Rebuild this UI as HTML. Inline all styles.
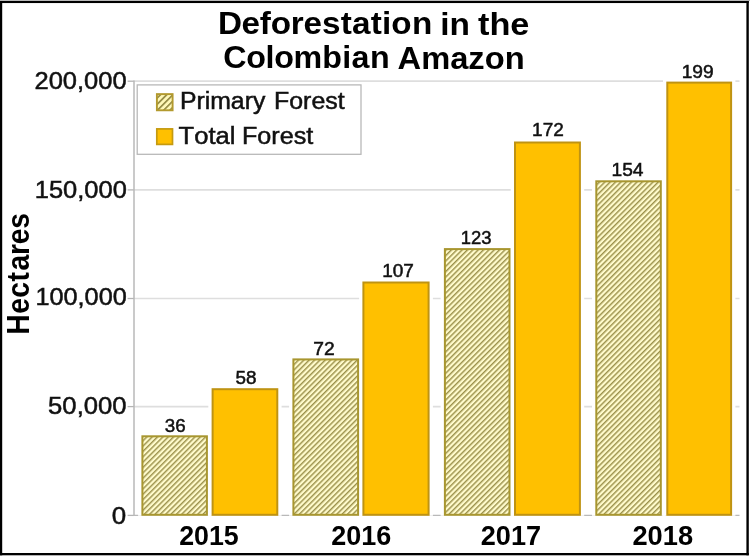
<!DOCTYPE html>
<html lang="en"><head><meta charset="utf-8"><title>Deforestation in the Colombian Amazon</title>
<style>html,body{margin:0;padding:0;background:#fff}body{width:750px;height:557px;overflow:hidden}svg{display:block}</style></head>
<body>
<svg width="750" height="557" viewBox="0 0 750 557" font-family="Liberation Sans, sans-serif" style="font-kerning:none">
<defs><pattern id="h" width="3.78" height="3.78" patternUnits="userSpaceOnUse" patternTransform="rotate(-45)"><rect width="3.78" height="3.78" fill="#fffbcc"/><rect y="0" width="3.78" height="1.45" fill="#9c924c"/></pattern><pattern id="h2" width="4.4" height="4.4" patternUnits="userSpaceOnUse" patternTransform="translate(158,96) rotate(-45)"><rect width="4.4" height="4.4" fill="#fff8b8"/><rect y="0" width="4.4" height="1.7" fill="#968c46"/></pattern></defs>
<rect width="750" height="557" fill="#fff"/>
<rect x="-0.3" y="0.9" width="749" height="2.15" fill="#000"/>
<rect x="-0.3" y="0.9" width="2.5" height="554.4" fill="#000"/>
<rect x="746.4" y="0.9" width="2.4" height="554.4" fill="#000"/>
<rect x="-0.3" y="553.0" width="749.1" height="2.3" fill="#000"/>
<rect x="0" y="0" width="750" height="0.9" fill="#b4b4b4"/>
<line x1="134.0" y1="81.2" x2="739.5" y2="81.2" stroke="#dedede" stroke-width="1.7"/>
<line x1="134.0" y1="189.9" x2="739.5" y2="189.9" stroke="#dedede" stroke-width="1.7"/>
<line x1="134.0" y1="298.5" x2="739.5" y2="298.5" stroke="#dedede" stroke-width="1.7"/>
<line x1="134.0" y1="406.6" x2="739.5" y2="406.6" stroke="#dedede" stroke-width="1.7"/>
<line x1="127.6" y1="81.2" x2="134.0" y2="81.2" stroke="#b4b4b4" stroke-width="1.3"/>
<line x1="127.6" y1="189.9" x2="134.0" y2="189.9" stroke="#b4b4b4" stroke-width="1.3"/>
<line x1="127.6" y1="298.5" x2="134.0" y2="298.5" stroke="#b4b4b4" stroke-width="1.3"/>
<line x1="127.6" y1="406.6" x2="134.0" y2="406.6" stroke="#b4b4b4" stroke-width="1.3"/>
<line x1="127.6" y1="515.4" x2="134.0" y2="515.4" stroke="#b4b4b4" stroke-width="1.3"/>
<line x1="134.0" y1="80.60000000000001" x2="134.0" y2="516.0" stroke="#b9b9b9" stroke-width="1.5"/>
<line x1="134.0" y1="515.4" x2="739.5" y2="515.4" stroke="#b9b9b9" stroke-width="1.3"/>
<rect x="138.10" y="432.00" width="73.10" height="83.80" fill="#fff"/>
<rect x="208.30" y="384.90" width="73.30" height="130.90" fill="#fff"/>
<rect x="289.10" y="355.10" width="73.30" height="160.70" fill="#fff"/>
<rect x="359.10" y="278.20" width="73.80" height="237.60" fill="#fff"/>
<rect x="440.60" y="244.80" width="73.20" height="271.00" fill="#fff"/>
<rect x="510.70" y="138.20" width="73.50" height="377.60" fill="#fff"/>
<rect x="592.00" y="177.00" width="73.10" height="338.80" fill="#fff"/>
<rect x="663.00" y="78.30" width="72.40" height="437.50" fill="#fff"/>
<rect x="142.40" y="436.30" width="64.50" height="78.50" fill="url(#h)" stroke="#a8962f" stroke-width="2.0"/>
<rect x="212.60" y="389.20" width="64.70" height="125.60" fill="#ffc000" stroke="#bf9312" stroke-width="2.0"/>
<rect x="293.40" y="359.40" width="64.70" height="155.40" fill="url(#h)" stroke="#a8962f" stroke-width="2.0"/>
<rect x="363.40" y="282.50" width="65.20" height="232.30" fill="#ffc000" stroke="#bf9312" stroke-width="2.0"/>
<rect x="444.90" y="249.10" width="64.60" height="265.70" fill="url(#h)" stroke="#a8962f" stroke-width="2.0"/>
<rect x="515.00" y="142.50" width="64.90" height="372.30" fill="#ffc000" stroke="#bf9312" stroke-width="2.0"/>
<rect x="596.30" y="181.30" width="64.50" height="333.50" fill="url(#h)" stroke="#a8962f" stroke-width="2.0"/>
<rect x="667.30" y="82.60" width="63.80" height="432.20" fill="#ffc000" stroke="#bf9312" stroke-width="2.0"/>
<rect x="137.2" y="84.9" width="223.8" height="69.4" fill="#fff" stroke="#b6b6b6" stroke-width="1.25"/>
<rect x="156.9" y="94.1" width="15.7" height="16.2" fill="url(#h2)" stroke="#b39a2e" stroke-width="1.9"/>
<rect x="156.8" y="128.9" width="15.7" height="15.5" fill="#ffc000" stroke="#c59a10" stroke-width="1.7"/>
<text x="179.92" y="109.40" font-size="23.5" font-weight="400" textLength="85.38" lengthAdjust="spacingAndGlyphs" fill="#111" stroke="#111" stroke-width="0.5">Primary</text>
<text x="274.01" y="109.40" font-size="23.5" font-weight="400" textLength="70.63" lengthAdjust="spacingAndGlyphs" fill="#111" stroke="#111" stroke-width="0.5">Forest</text>
<text x="178.58" y="143.80" font-size="23.5" font-weight="400" textLength="56.89" lengthAdjust="spacingAndGlyphs" fill="#111" stroke="#111" stroke-width="0.5">Total</text>
<text x="241.99" y="143.80" font-size="23.5" font-weight="400" textLength="71.25" lengthAdjust="spacingAndGlyphs" fill="#111" stroke="#111" stroke-width="0.5">Forest</text>
<text transform="scale(1.0460,1)" x="208.34 230.96 248.41 258.76 277.92 290.04 307.80 325.68 336.48 354.36 365.09 374.13 393.83" y="34.50" font-size="31.8" font-weight="700" fill="#000">Deforestation</text>
<text x="440.17" y="34.50" font-size="31.8" font-weight="700" textLength="29.71" lengthAdjust="spacingAndGlyphs" fill="#000">in</text>
<text x="477.98" y="34.50" font-size="31.8" font-weight="700" textLength="51.49" lengthAdjust="spacingAndGlyphs" fill="#000">the</text>
<text transform="scale(1.0138,1)" x="220.33 242.84 261.96 270.50 289.41 317.81 337.61 346.80 364.97" y="68.50" font-size="31.8" font-weight="700" fill="#000">Colombian</text>
<text x="397.59" y="68.50" font-size="31.8" font-weight="700" textLength="127.04" lengthAdjust="spacingAndGlyphs" fill="#000">Amazon</text>
<text x="34.47" y="88.80" font-size="24.5" font-weight="400" textLength="92.18" lengthAdjust="spacingAndGlyphs" fill="#111" stroke="#111" stroke-width="0.5">200,000</text>
<text x="34.71" y="197.80" font-size="24.5" font-weight="400" textLength="92.14" lengthAdjust="spacingAndGlyphs" fill="#111" stroke="#111" stroke-width="0.5">150,000</text>
<text x="35.42" y="305.00" font-size="24.5" font-weight="400" textLength="91.41" lengthAdjust="spacingAndGlyphs" fill="#111" stroke="#111" stroke-width="0.5">100,000</text>
<text x="48.12" y="414.00" font-size="24.5" font-weight="400" textLength="78.43" lengthAdjust="spacingAndGlyphs" fill="#111" stroke="#111" stroke-width="0.5">50,000</text>
<text x="111.84" y="524.00" font-size="24.5" font-weight="400" textLength="14.43" lengthAdjust="spacingAndGlyphs" fill="#111" stroke="#111" stroke-width="0.5">0</text>
<text x="164.74" y="432.00" font-size="18.0" font-weight="400" textLength="20.84" lengthAdjust="spacingAndGlyphs" fill="#111" stroke="#111" stroke-width="0.5">36</text>
<text x="235.49" y="384.30" font-size="18.0" font-weight="400" textLength="20.97" lengthAdjust="spacingAndGlyphs" fill="#111" stroke="#111" stroke-width="0.5">58</text>
<text x="313.26" y="355.20" font-size="18.0" font-weight="400" textLength="21.46" lengthAdjust="spacingAndGlyphs" fill="#111" stroke="#111" stroke-width="0.5">72</text>
<text x="382.20" y="276.90" font-size="18.0" font-weight="400" textLength="31.70" lengthAdjust="spacingAndGlyphs" fill="#111" stroke="#111" stroke-width="0.5">107</text>
<text x="460.74" y="243.50" font-size="18.0" font-weight="400" textLength="30.82" lengthAdjust="spacingAndGlyphs" fill="#111" stroke="#111" stroke-width="0.5">123</text>
<text x="532.10" y="136.10" font-size="18.0" font-weight="400" textLength="31.70" lengthAdjust="spacingAndGlyphs" fill="#111" stroke="#111" stroke-width="0.5">172</text>
<text x="611.49" y="175.60" font-size="18.0" font-weight="400" textLength="32.02" lengthAdjust="spacingAndGlyphs" fill="#111" stroke="#111" stroke-width="0.5">154</text>
<text x="681.69" y="77.60" font-size="18.0" font-weight="400" textLength="31.97" lengthAdjust="spacingAndGlyphs" fill="#111" stroke="#111" stroke-width="0.5">199</text>
<text x="179.17" y="544.70" font-size="27.6" font-weight="700" textLength="59.57" lengthAdjust="spacingAndGlyphs" fill="#000">2015</text>
<text x="331.36" y="544.70" font-size="27.6" font-weight="700" textLength="60.01" lengthAdjust="spacingAndGlyphs" fill="#000">2016</text>
<text x="480.76" y="544.70" font-size="27.6" font-weight="700" textLength="60.33" lengthAdjust="spacingAndGlyphs" fill="#000">2017</text>
<text x="632.45" y="544.70" font-size="27.6" font-weight="700" textLength="60.68" lengthAdjust="spacingAndGlyphs" fill="#000">2018</text>
<g transform="translate(28.8,0) rotate(-90)"><text transform="scale(0.9152,1)" x="-365.71 -342.87 -325.24 -307.69 -295.55 -278.64 -266.91 -250.06" y="0.00" font-size="31" font-weight="700" fill="#000">Hectares</text></g>
</svg>
</body></html>
